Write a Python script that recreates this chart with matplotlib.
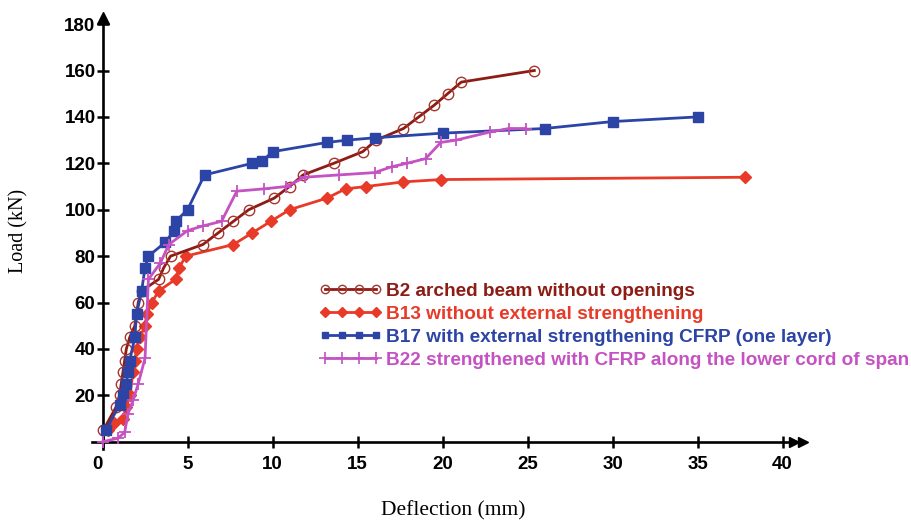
import matplotlib.pyplot as plt
from matplotlib.lines import Line2D

# Load-deflection readings for each beam
b2_defl = [0.05, 0.8, 1.0, 1.1, 1.2, 1.3, 1.4, 1.6, 1.9, 2.1, 2.3, 3.3, 3.6, 4.0, 5.9,
           6.8, 7.7, 8.6, 10.1, 11.0, 11.8, 13.6, 15.3, 16.1, 17.7, 18.6, 19.5, 20.3, 21.1, 25.4]
b2_load = [5, 15, 20, 25, 30, 35, 40, 45, 50, 60, 65, 70, 75, 80, 85,
           90, 95, 100, 105, 110, 115, 120, 125, 130, 135, 140, 145, 150, 155, 160]

b13_defl = [0.3, 0.7, 1.2, 1.4, 1.6, 1.8, 1.9, 2.0, 2.2, 2.5, 2.6, 2.9, 3.3, 4.3, 4.5,
            4.9, 7.7, 8.8, 9.9, 11.0, 13.2, 14.3, 15.5, 17.7, 19.9, 37.8]
b13_load = [5, 8, 10, 15, 20, 30, 35, 40, 45, 50, 55, 60, 65, 70, 75,
            80, 85, 90, 95, 100, 105, 109, 110, 112, 113, 114]

b17_defl = [0.2, 1.0, 1.2, 1.4, 1.5, 1.6, 1.9, 2.0, 2.3, 2.5, 2.7, 3.7, 4.2, 4.3, 5.0,
            6.0, 8.8, 9.4, 10.0, 13.2, 14.4, 16.0, 20.0, 26.0, 30.0, 35.0]
b17_load = [5, 16, 20, 25, 30, 35, 45, 55, 65, 75, 80, 86, 91, 95, 100,
            115, 120, 121, 125, 129, 130, 131, 133, 135, 138, 140]

b22_defl = [0, 0.9, 1.3, 1.5, 1.8, 2.1, 2.5, 2.7, 3.4, 3.9, 5.0, 5.9, 7.0, 7.9, 9.5,
            10.8, 11.9, 13.9, 16.0, 17.0, 17.9, 19.0, 19.9, 20.8, 22.8, 23.9, 24.9]
b22_load = [0, 1.5, 4, 12, 18, 25, 36, 70, 77, 85, 91, 93, 95, 108, 109,
            110, 114, 115, 116, 118.5, 120, 122, 129, 130, 133.5, 135, 135]

labels = ["B2 arched beam without openings",
          "B13 without external strengthening",
          "B17 with external strengthening CFRP (one layer)",
          "B22 strengthened with CFRP along the lower cord of span"]

x_ticks = [0, 5, 10, 15, 20, 25, 30, 35, 40]
y_ticks = [20, 40, 60, 80, 100, 120, 140, 160, 180]

c_b2 = "#8c1c14"
c_b13 = "#e83a28"
c_b17 = "#2c44a6"
c_b22 = "#c552c2"

fig = plt.figure(figsize=(9.12, 5.25), dpi=100)
ax = fig.add_axes([0.1031, 0.1453, 0.7829, 0.8309])

lw = 2.0
ax.plot(b13_defl, b13_load, color=c_b13, lw=lw, marker="D", ms=6,
        mfc=c_b13, mec=c_b13, zorder=3)
ax.plot(b2_defl, b2_load, color=c_b2, lw=lw, marker="o", ms=7.5,
        mfc="none", mec="#a8352c", mew=1.0, zorder=4)
ax.plot(b17_defl, b17_load, color=c_b17, lw=lw, marker="s", ms=6.5,
        mfc=c_b17, mec=c_b17, zorder=5)
ax.plot(b22_defl, b22_load, color=c_b22, lw=lw, marker="+", ms=9,
        mew=1.3, zorder=6)

ax.set_xlim(-0.5, 41.5)
ax.set_ylim(-3, 185)

# axes drawn through the origin, with arrow heads
for side in ["top", "right"]:
    ax.spines[side].set_visible(False)
ax.spines["left"].set_position(("data", 0))
ax.spines["bottom"].set_position(("data", 0))
ax.spines["left"].set_bounds(-3, 181)
ax.spines["bottom"].set_bounds(-0.6, 40.8)
for side in ["left", "bottom"]:
    ax.spines[side].set_linewidth(1.9)
ax.plot([0], [182.5], marker="^", ms=8, color="black", clip_on=False, zorder=7)
ax.plot([40.7, 41.2], [0, 0], marker=">", ms=7, ls="none", color="black",
        clip_on=False, zorder=7)

ax.set_xticks(x_ticks)
ax.set_yticks(y_ticks)
ax.tick_params(direction="inout", length=8, width=1.8, labelsize=13.5)
ax.tick_params(axis="x", pad=6)
ax.tick_params(axis="y", pad=1)
for t in ax.get_xticklabels() + ax.get_yticklabels():
    t.set_fontweight("bold")
    t.set_family("Liberation Sans")
ax.get_xticklabels()[0].set_horizontalalignment("right")

fig.text(0.497, 0.028, "Deflection (mm)", family="Liberation Serif", fontsize=15.5,
         ha="center", va="center")
fig.text(0.021, 0.56, "Load (kN)", family="Liberation Serif", fontsize=14.5,
         ha="center", va="center", rotation=90)

handles = [
    Line2D([], [], color=c_b2, lw=lw, marker="o", ms=6, mfc="none", mec="#a8352c"),
    Line2D([], [], color=c_b13, lw=lw, marker="D", ms=5),
    Line2D([], [], color=c_b17, lw=lw, marker="s", ms=5),
    Line2D([], [], color=c_b22, lw=lw, marker="+", ms=8, mew=1.2),
]
leg = fig.legend(handles, labels, loc="upper left", bbox_to_anchor=(0.335, 0.487),
                 frameon=False, numpoints=4, handlelength=3.3, handletextpad=0.25,
                 labelspacing=0.3, borderpad=0.2,
                 prop={"family": "Liberation Sans", "weight": "bold", "size": 13.7})
for txt, col in zip(leg.get_texts(), [c_b2, c_b13, c_b17, c_b22]):
    txt.set_color(col)

fig.savefig("out.png", dpi=100)
